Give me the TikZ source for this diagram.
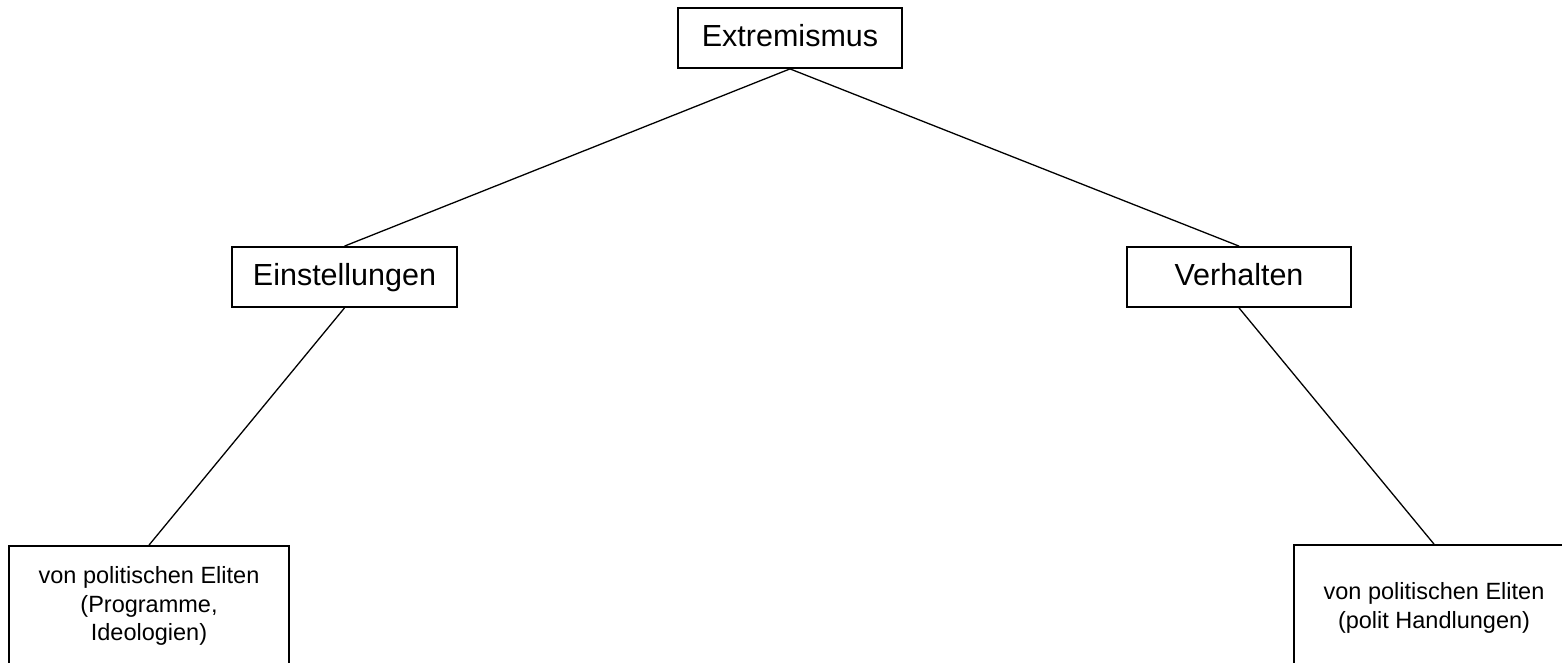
\documentclass[tikz,border=0pt]{standalone}
\usepackage{fontspec}
\setmainfont{Liberation Sans}
\begin{document}
\begin{tikzpicture}[x=1pt,y=-1pt,
  box/.style={draw=black, line width=1.8pt, fill=white, inner sep=0pt, align=center,
    text height=22pt, text depth=6pt, font=\fontsize{30.5}{36}\selectfont},
  lowbox/.style={draw=black, line width=1.8pt, fill=white, inner sep=0pt, align=center,
    minimum width=280pt, minimum height=120pt, font=\fontsize{23.5}{28.5}\selectfont},
  link/.style={draw=black, line width=1.3pt}]
\useasboundingbox (0,0) rectangle (1562,662);
\clip (0,0) rectangle (1562,662);
\fill[white] (0,0) rectangle (1562,662);
\node[box, minimum width=224pt, minimum height=60pt] (ext) at (790,38) {Extremismus};
\node[box, minimum width=225pt, minimum height=60pt] (ein) at (344.5,277) {Einstellungen};
\node[box, minimum width=224pt, minimum height=60pt] (ver) at (1239,277) {Verhalten};
\node[lowbox] (bl) at (149,606) {von politischen Eliten\\(Programme,\\Ideologien)};
\node[lowbox, minimum height=126pt] (br) at (1434,608) {von politischen Eliten\\(polit Handlungen)};
\draw[link] (ext.south) -- (ein.north);
\draw[link] (ext.south) -- (ver.north);
\draw[link] (ein.south) -- (bl.north);
\draw[link] (ver.south) -- (br.north);
\end{tikzpicture}
\end{document}
